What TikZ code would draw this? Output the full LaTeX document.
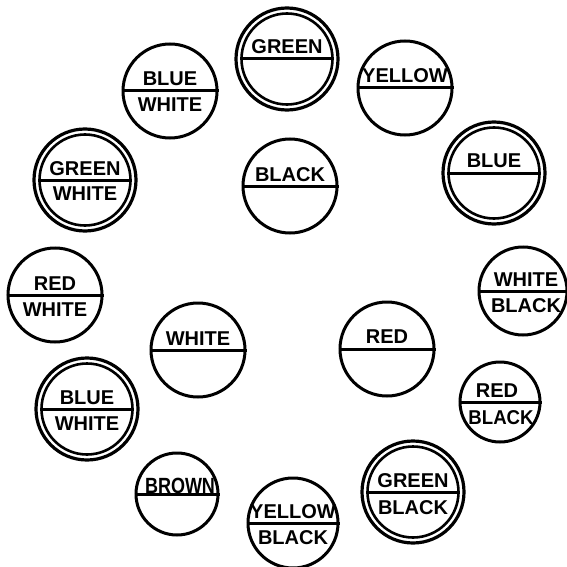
\documentclass[tikz,border=0pt]{standalone}
\usepackage{fontspec}
\usepackage{graphicx}
\setmainfont{Liberation Sans}
\begin{document}
\begin{tikzpicture}[x=1pt,y=-1pt,
  single/.style={circle,draw=black,line width=3pt,inner sep=0pt,minimum size=#1},
  outerring/.style={circle,draw=black,line width=3.2pt,inner sep=0pt,minimum size=102pt},
  innerring/.style={circle,draw=black,line width=2.6pt,inner sep=0pt,minimum size=91pt},
  divider/.style={line width=3pt},
  lab/.style={inner sep=0pt,anchor=base,font=\fontsize{20}{20}\selectfont\bfseries}
]
\useasboundingbox (0,0) rectangle (567,567);
\fill[white] (0,0) rectangle (567,567);

% 1 GREEN (top, double)
\node[outerring] (c1) at (287,59) {};
\node[innerring] (c1i) at (c1) {};
\draw[divider] (c1i.west) -- (c1i.east);
\node[lab] (t1) at ([yshift=5pt]c1.center) {GREEN};

% 2 BLUE / WHITE
\node[single=94pt] (c2) at (170,91) {};
\draw[divider] (c2.west) -- (c2.east);
\node[lab] (t2a) at ([yshift=5pt]c2.center) {BLUE};
\node[lab] (t2b) at ([yshift=-20pt]c2.center) {WHITE};

% 3 YELLOW
\node[single=94pt] (c3) at (405,88) {};
\draw[divider] (c3.west) -- (c3.east);
\node[lab] (t3) at ([yshift=5pt]c3.center) {YELLOW};

% 4 GREEN / WHITE (double)
\node[outerring] (c4) at (85,180) {};
\node[innerring] (c4i) at (c4) {};
\draw[divider] (c4i.west) -- (c4i.east);
\node[lab] (t4a) at ([yshift=5pt]c4.center) {GREEN};
\node[lab] (t4b) at ([yshift=-20pt]c4.center) {WHITE};

% 5 BLACK
\node[single=94pt] (c5) at (290,186) {};
\draw[divider] (c5.west) -- (c5.east);
\node[lab] (t5) at ([yshift=5pt]c5.center) {BLACK};

% 6 BLUE (double)
\node[outerring] (c6) at (494,173) {};
\node[innerring] (c6i) at (c6) {};
\draw[divider] (c6i.west) -- (c6i.east);
\node[lab] (t6) at ([yshift=6pt]c6.center) {BLUE};

% 7 RED / WHITE
\node[single=94pt] (c7) at (55,295) {};
\draw[divider] (c7.west) -- (c7.east);
\node[lab] (t7a) at ([yshift=5pt]c7.center) {RED};
\node[lab] (t7b) at ([yshift=-21pt]c7.center) {WHITE};

% 8 WHITE / BLACK
\node[single=88pt] (c8) at (523,291) {};
\draw[divider] (c8.west) -- (c8.east);
\node[lab] (t8a) at ([xshift=3pt,yshift=5pt]c8.center) {WHITE};
\node[lab] (t8b) at ([xshift=3pt,yshift=-21pt]c8.center) {BLACK};

% 9 WHITE
\node[single=94pt] (c9) at (198,350) {};
\draw[divider] (c9.west) -- (c9.east);
\node[lab] (t9) at ([yshift=5pt]c9.center) {WHITE};

% 10 RED
\node[single=94pt] (c10) at (387,349) {};
\draw[divider] (c10.west) -- (c10.east);
\node[lab] (t10) at ([yshift=6pt]c10.center) {RED};

% 11 BLUE / WHITE (double)
\node[outerring] (c11) at (87,409) {};
\node[innerring] (c11i) at (c11) {};
\draw[divider] (c11i.west) -- (c11i.east);
\node[lab] (t11a) at ([yshift=5pt]c11.center) {BLUE};
\node[lab] (t11b) at ([yshift=-21pt]c11.center) {WHITE};

% 12 RED / BLACK
\node[single=80pt] (c12) at (500,402) {};
\draw[divider] (c12.west) -- (c12.east);
\node[lab] (t12a) at ([xshift=-3pt,yshift=5pt]c12.center) {RED};
\node[lab] (t12b) at ([xshift=1pt,yshift=-22pt]c12.center) {\scalebox{0.93}[1]{BLACK}};

% 13 BROWN
\node[single=82pt] (c13) at (177,494) {};
\draw[divider] (c13.west) -- (c13.east);
\node[lab] (t13) at ([xshift=3pt,yshift=1pt]c13.center) {\scalebox{0.9}[1.1]{BROWN}};

% 14 YELLOW / BLACK
\node[single=90pt] (c14) at (293,523) {};
\draw[divider] (c14.west) -- (c14.east);
\node[lab] (t14a) at ([yshift=5pt]c14.center) {YELLOW};
\node[lab] (t14b) at ([yshift=-21pt]c14.center) {BLACK};

% 15 GREEN / BLACK (double)
\node[outerring] (c15) at (413,492) {};
\node[innerring] (c15i) at (c15) {};
\draw[divider] (c15i.west) -- (c15i.east);
\node[lab] (t15a) at ([yshift=5pt]c15.center) {GREEN};
\node[lab] (t15b) at ([yshift=-22pt]c15.center) {BLACK};
\end{tikzpicture}
\end{document}
